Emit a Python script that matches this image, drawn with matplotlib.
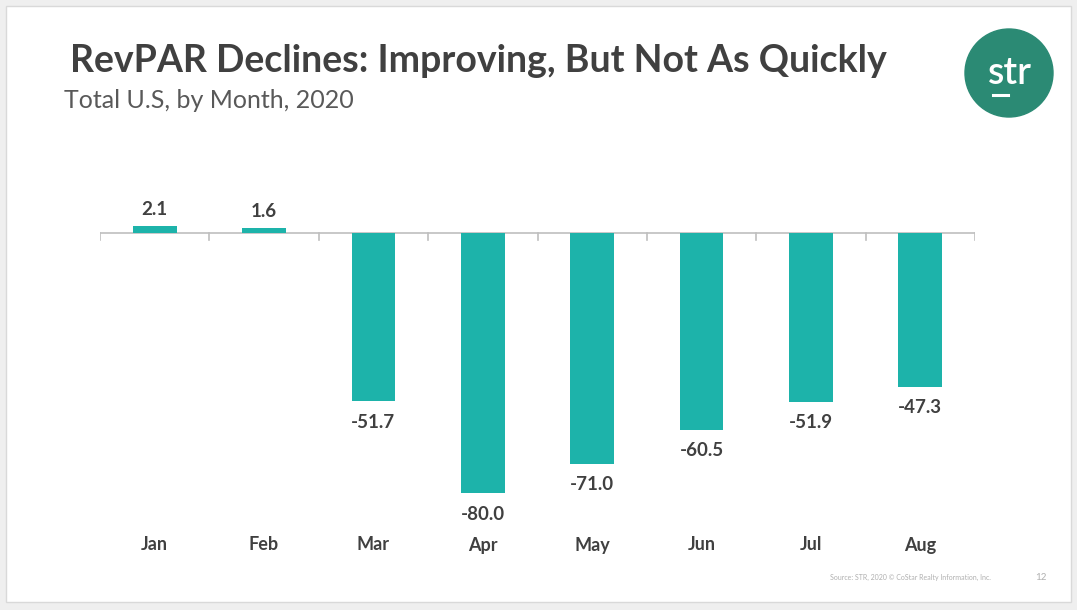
import matplotlib.pyplot as plt
from matplotlib.patches import Circle, Rectangle

months = ["Jan", "Feb", "Mar", "Apr", "May", "Jun", "Jul", "Aug"]
revpar_change = [2.1, 1.6, -51.7, -80.0, -71.0, -60.5, -51.9, -47.3]

W, H = 1077, 610
fig = plt.figure(figsize=(W / 100, H / 100), dpi=100)
fig.patch.set_facecolor("#efefef")

# white slide area
fig.add_artist(Rectangle((6 / W, 8 / H), 1 - 12 / W, 1 - 14 / H, transform=fig.transFigure,
                         facecolor="white", edgecolor="#d9d9d9", lw=1, zorder=0))

# axes placed in pixel coordinates: x 100..975, y 190..530 (zero line at y=233)
left, right, top, bottom = 100, 975, 190, 530
ax = fig.add_axes([left / W, 1 - bottom / H, (right - left) / W, (bottom - top) / H])
ax.patch.set_alpha(0)
scale = 3.25  # pixels per unit
ax.set_ylim(-(bottom - 233) / scale, (233 - top) / scale)
ax.set_xlim(-0.5, len(months) - 0.5)

x = range(len(months))
ax.bar(x, revpar_change, width=0.4, color="#1db3aa", zorder=2)

for i, v in enumerate(revpar_change):
    off = 5.0 if v >= 0 else -6.5
    ax.text(i, v + off, f"{v:.1f}", ha="center", va="center", fontsize=13.5,
            fontweight="bold", color="#404040", family="Lato")

# zero line with tick marks at category boundaries
ax.axhline(0, color="#bfbfbf", lw=1.2, zorder=1)
for b in [i - 0.5 for i in range(len(months) + 1)]:
    ax.plot([b, b], [0, -2.2], color="#bfbfbf", lw=1.2, zorder=1)

for i, m in enumerate(months):
    ax.text(i, -(545 - 233) / scale, m, ha="center", va="center", fontsize=13,
            fontweight="bold", color="#404040", family="Lato")

for s in ax.spines.values():
    s.set_visible(False)
ax.set_xticks([])
ax.set_yticks([])

fig.text(70 / W, 1 - 61 / H, "RevPAR Declines: Improving, But Not As Quickly", fontsize=27,
         fontweight="bold", color="#404040", family="Lato", va="center", ha="left")
fig.text(64 / W, 1 - 101 / H, "Total U.S, by Month, 2020", fontsize=18,
         color="#595959", family="Lato", va="center", ha="left")

# logo
logo_ax = fig.add_axes([0, 0, 1, 1])
logo_ax.set_xlim(0, W)
logo_ax.set_ylim(H, 0)
logo_ax.axis("off")
logo_ax.add_patch(Circle((1009, 73), 44, color="#2b8a74"))
logo_ax.text(1010, 73, "str", ha="center", va="center", fontsize=27, color="white",
             family="Lato", fontweight="semibold")
logo_ax.plot([993, 1008], [95, 95], color="white", lw=2.2)

fig.text(910 / W, 1 - 577 / H, "Source: STR, 2020 \u00a9 CoStar Realty Information, Inc.", fontsize=5,
         color="#b0b0b0", family="Lato", ha="center", va="center")
fig.text(1041 / W, 1 - 577 / H, "12", fontsize=7, color="#b0b0b0", family="Lato", ha="center", va="center")

fig.savefig("out.png", dpi=100, facecolor=fig.get_facecolor())
